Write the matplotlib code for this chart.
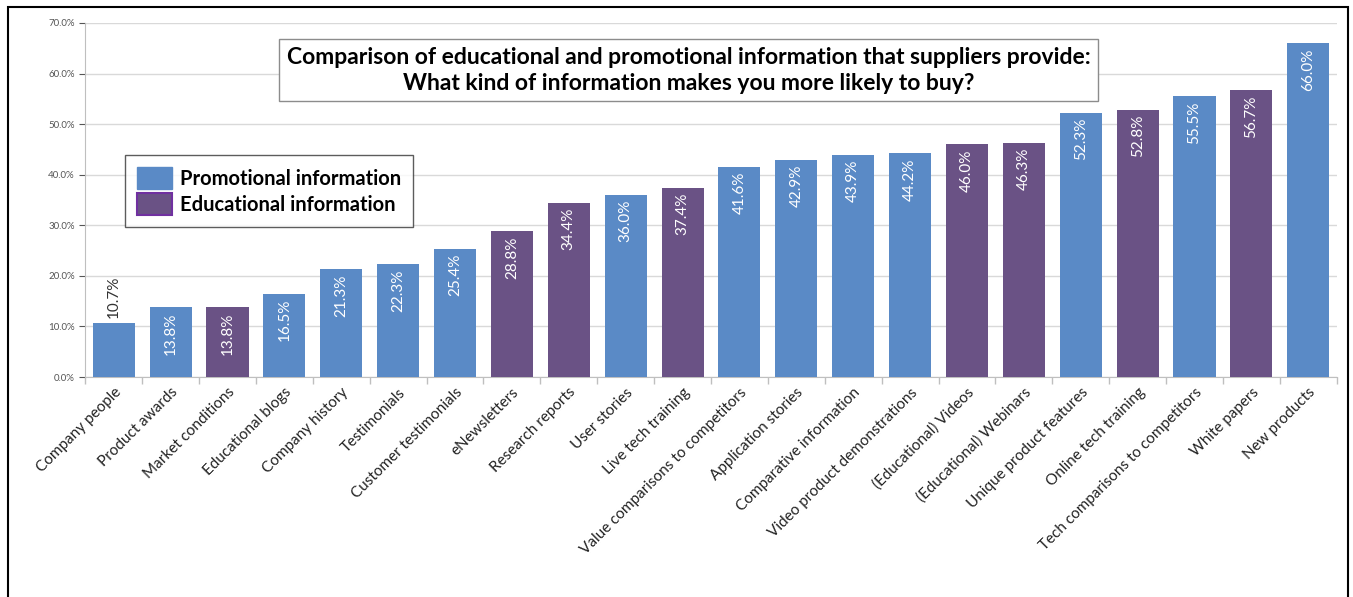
import matplotlib
matplotlib.use("Agg")
import matplotlib.pyplot as plt
from matplotlib.patches import Rectangle, Patch
from matplotlib.ticker import FuncFormatter, FixedLocator

plt.rcParams['font.family'] = ['Lato', 'DejaVu Sans']

categories = ["Company people", "Product awards", "Market conditions", "Educational blogs",
              "Company history", "Testimonials", "Customer testimonials", "eNewsletters",
              "Research reports", "User stories", "Live tech training",
              "Value comparisons to competitors", "Application stories",
              "Comparative information", "Video product demonstrations",
              "(Educational) Videos", "(Educational) Webinars", "Unique product features",
              "Online tech training", "Tech comparisons to competitors", "White papers",
              "New products"]
values = [10.7, 13.8, 13.8, 16.5, 21.3, 22.3, 25.4, 28.8, 34.4, 36.0, 37.4,
          41.6, 42.9, 43.9, 44.2, 46.0, 46.3, 52.3, 52.8, 55.5, 56.7, 66.0]
kinds = ["P", "P", "E", "P", "P", "P", "P", "E", "E", "P", "E",
         "P", "P", "P", "P", "E", "E", "P", "E", "P", "E", "P"]

blue = "#5A8AC6"
purple = "#6A5285"
colors = [blue if k == "P" else purple for k in kinds]

fig = plt.figure(figsize=(13.53, 5.97), dpi=100)
ax = fig.add_axes([0.063, 0.3685, 0.925, 0.593])

x = range(len(categories))
bars = ax.bar(x, values, width=0.74, color=colors, zorder=3)

ax.set_ylim(0, 70)
ax.set_xlim(-0.5, len(categories) - 0.5)
ax.set_yticks(range(0, 71, 10))
ax.yaxis.set_major_formatter(FuncFormatter(lambda v, p: f"{v:.1f}%"))
ax.tick_params(axis='y', labelsize=7, colors="#555555", length=4, width=0.8)
ax.grid(axis='y', color="#D9D9D9", linewidth=1, zorder=0)

ax.set_xticks(list(x))
ax.set_xticklabels(categories, rotation=45, ha='right', rotation_mode='anchor',
                   fontsize=11, color="#222222")
ax.tick_params(axis='x', length=0, pad=6)
ax.xaxis.set_minor_locator(FixedLocator([i - 0.5 for i in range(len(categories) + 1)]))
ax.tick_params(axis='x', which='minor', length=5, color="#BFBFBF", width=1)

for s in ['top', 'right']:
    ax.spines[s].set_visible(False)
ax.spines['left'].set_color("#BFBFBF")
ax.spines['bottom'].set_color("#BFBFBF")

# value labels: inside the bar top, or above it when the bar is short
for b, v in zip(bars, values):
    cx = b.get_x() + b.get_width() / 2
    if v < 12:
        ax.text(cx, v + 1.0, f"{v:.1f}%", rotation=90, ha='center', va='bottom',
                fontsize=11, color="#333333", zorder=4)
    else:
        ax.text(cx, v - 1.0, f"{v:.1f}%", rotation=90, ha='center', va='top',
                fontsize=11, color="white", zorder=4)

ax.text(0.482, 0.867,
        "Comparison of educational and promotional information that suppliers provide:\n"
        "What kind of information makes you more likely to buy?",
        transform=ax.transAxes, ha='center', va='center', fontsize=16.5,
        fontweight='bold', linespacing=1.3, zorder=5,
        bbox=dict(boxstyle='square,pad=0.32', facecolor='white', edgecolor='#8C8C8C', lw=1))

handles = [Patch(facecolor=blue, edgecolor=blue, label="Promotional information"),
           Patch(facecolor=purple, edgecolor="#7030A0", linewidth=1.5,
                 label="Educational information")]
leg = ax.legend(handles=handles, loc='upper left', bbox_to_anchor=(0.032, 0.627),
                borderaxespad=0, fontsize=14.5, frameon=True, fancybox=False,
                edgecolor="#333333", handlelength=1.7, handleheight=1.3,
                handletextpad=0.4, labelspacing=0.2, borderpad=0.6)
leg.get_frame().set_linewidth(1.0)
for t in leg.get_texts():
    t.set_fontweight('bold')
leg.set_zorder(5)

fig.patches.append(Rectangle((8 / 1353, -0.02), 1340 / 1353, 1.0 - 7 / 597 + 0.02,
                             transform=fig.transFigure, fill=False,
                             edgecolor='black', linewidth=1.5))

fig.savefig("out.png", dpi=100)
